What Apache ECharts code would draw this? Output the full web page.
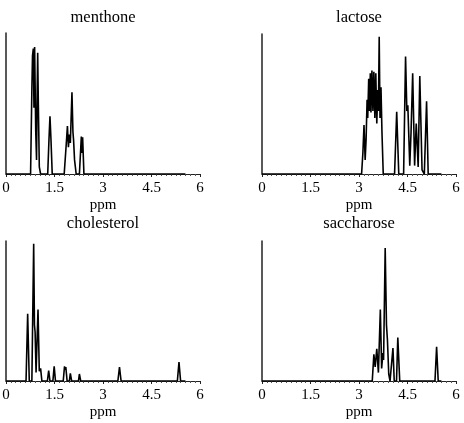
<!DOCTYPE html>
<html>
<head>
<meta charset="utf-8">
<script src="https://cdn.jsdelivr.net/npm/echarts@6/dist/echarts.min.js"></script>
<style>
  html, body { margin: 0; padding: 0; background: #fff; }
  #chart { width: 464px; height: 423px; }
</style>
</head>
<body>
<div id="chart"></div>
<script>
// spectra: [ppm, relative intensity]
const menthone = [
  [0, 0], [0.76, 0], [0.80, 0.6], [0.82, 0.84], [0.845, 0.89], [0.865, 0.47], [0.885, 0.90],
  [0.92, 0.30], [0.945, 0.10], [0.965, 0.6], [0.98, 0.86], [1.0, 0.5], [1.03, 0.05], [1.07, 0],
  [1.29, 0], [1.33, 0.25], [1.36, 0.41], [1.39, 0.25], [1.43, 0],
  [1.80, 0], [1.86, 0.2], [1.90, 0.34], [1.93, 0.19], [1.96, 0.28], [1.99, 0.22], [2.04, 0.58],
  [2.07, 0.3], [2.09, 0.24], [2.12, 0.1], [2.17, 0],
  [2.27, 0], [2.33, 0.265], [2.35, 0.15], [2.37, 0.26], [2.41, 0], [5.55, 0]
];
const lactose = [
  [0, 0], [3.08, 0], [3.12, 0.15], [3.155, 0.35], [3.19, 0.10], [3.22, 0.25], [3.25, 0.53],
  [3.27, 0.40], [3.30, 0.68], [3.32, 0.45], [3.35, 0.72], [3.37, 0.44], [3.40, 0.74], [3.43, 0.45],
  [3.46, 0.73], [3.49, 0.40], [3.52, 0.72], [3.55, 0.36], [3.58, 0.60], [3.60, 0.45], [3.625, 0.98],
  [3.65, 0.40], [3.68, 0.62], [3.71, 0.30], [3.75, 0],
  [4.10, 0], [4.166, 0.445], [4.23, 0],
  [4.38, 0], [4.44, 0.84], [4.48, 0.45], [4.51, 0.49], [4.57, 0.06], [4.61, 0.3], [4.66, 0.72],
  [4.72, 0.06], [4.77, 0.36], [4.83, 0.05], [4.88, 0.70], [4.95, 0.03], [5.02, 0], [5.09, 0.52],
  [5.14, 0], [5.55, 0]
];
const cholesterol = [
  [0, 0], [0.62, 0], [0.67, 0.48], [0.72, 0], [0.80, 0], [0.856, 0.98], [0.88, 0.40], [0.90, 0.35],
  [0.93, 0.06], [0.99, 0.51], [1.03, 0.07], [1.07, 0.09], [1.11, 0],
  [1.28, 0], [1.32, 0.075], [1.36, 0], [1.45, 0], [1.49, 0.105], [1.53, 0],
  [1.77, 0], [1.81, 0.105], [1.83, 0.08], [1.85, 0.1], [1.89, 0], [1.96, 0], [1.99, 0.055], [2.03, 0],
  [2.24, 0], [2.27, 0.05], [2.31, 0], [3.46, 0], [3.51, 0.10], [3.56, 0],
  [5.30, 0], [5.35, 0.135], [5.40, 0], [5.55, 0]
];
const saccharose = [
  [0, 0], [3.41, 0], [3.46, 0.19], [3.50, 0.10], [3.55, 0.23], [3.60, 0.06], [3.66, 0.51],
  [3.70, 0.09], [3.74, 0.20], [3.76, 0.15], [3.81, 0.95], [3.85, 0.40], [3.88, 0.29], [3.92, 0.05],
  [3.96, 0], [4.01, 0], [4.05, 0.235], [4.09, 0], [4.16, 0], [4.20, 0.31], [4.22, 0.30], [4.26, 0],
  [5.35, 0], [5.40, 0.245], [5.45, 0], [5.55, 0]
];
const names = ['menthone', 'lactose', 'cholesterol', 'saccharose'];
const spectra = [menthone, lactose, cholesterol, saccharose];
const xMin = 0, xMax = 6, xStep = 1.5;

const font = 'Liberation Serif';

// panel boxes in pixels
const boxes = [
  { left: 6, top: 33, width: 194, height: 141 },
  { left: 262, top: 34, width: 194, height: 140 },
  { left: 6, top: 241, width: 194, height: 140 },
  { left: 262, top: 241, width: 194, height: 140 }
];
const titleTops = [9, 9, 215, 215];

const chart = echarts.init(document.getElementById('chart'), null, { renderer: 'canvas' });

const option = {
  animation: false,
  backgroundColor: '#fff',
  title: names.map((n, i) => ({
    text: n,
    left: boxes[i].left + boxes[i].width / 2,
    top: titleTops[i],
    textAlign: 'center',
    padding: 0,
    textStyle: { fontFamily: font, fontSize: 16.5, fontWeight: 'normal', color: '#000' }
  })),
  grid: boxes.map(b => Object.assign({ containLabel: false, outerBoundsMode: 'none' }, b)),
  xAxis: boxes.map((b, i) => ({
    type: 'value',
    gridIndex: i,
    min: xMin,
    max: xMax,
    interval: xStep,
    name: 'ppm',
    nameLocation: 'middle',
    nameGap: 24,
    nameTextStyle: { fontFamily: font, fontSize: 15, color: '#000' },
    axisLine: { onZero: false, lineStyle: { color: '#222', width: 1 } },
    axisTick: { show: true, length: 3, lineStyle: { color: '#222' } },
    minorTick: { show: true, splitNumber: 10, length: 2, lineStyle: { color: '#555' } },
    axisLabel: { margin: 7, fontFamily: font, fontSize: 15, color: '#000' },
    splitLine: { show: false }
  })),
  yAxis: boxes.map((b, i) => ({
    type: 'value',
    gridIndex: i,
    min: 0,
    max: 1,
    axisLine: { show: true, lineStyle: { color: '#222', width: 1.5 } },
    axisTick: { show: false },
    axisLabel: { show: false },
    splitLine: { show: false }
  })),
  series: spectra.map((d, i) => ({
    name: names[i],
    type: 'line',
    xAxisIndex: i,
    yAxisIndex: i,
    data: d,
    showSymbol: false,
    lineStyle: { color: '#000', width: 1.6 },
    z: 3
  }))
};

chart.setOption(option);
</script>
</body>
</html>
